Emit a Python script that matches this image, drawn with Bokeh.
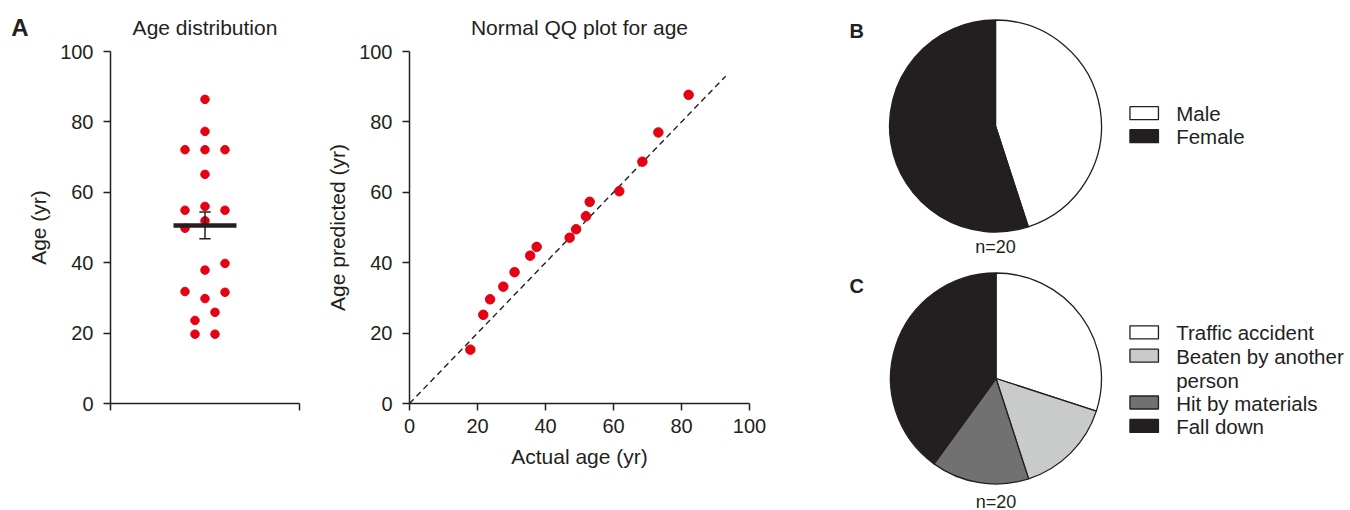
import numpy as np
from bokeh.plotting import figure
from bokeh.layouts import row
from bokeh.models import Range1d, FixedTicker
from bokeh.core.properties import value
from bokeh.embed import file_html
from bokeh.resources import INLINE

# ---------------- data ----------------
# Panel A (left): individual ages, with horizontal slot used by the dot plot
ages = [86.4, 77.3, 72.1, 72.1, 72.1, 65.1, 56.0, 54.9, 54.9, 51.9,
        49.8, 39.8, 37.9, 31.8, 31.6, 29.8, 25.9, 23.6, 19.7, 19.7]
age_slots = [0, 0, -2, 0, 2, 0, 0, -2, 2, 0,
             -2, 2, 0, -2, 2, 0, 1, -1, -1, 1]
age_mean = 50.6
age_sem = 3.8

# Panel A (right): normal QQ plot
qq_actual = [17.9, 21.7, 23.7, 27.6, 30.9, 35.5, 37.4, 47.1, 49.0, 51.9,
             53.0, 61.7, 68.5, 73.2, 82.1]
qq_predicted = [15.3, 25.2, 29.6, 33.2, 37.3, 42.0, 44.5, 47.1, 49.5, 53.2,
                57.3, 60.3, 68.7, 77.0, 87.7]
qq_line = [0, 93]

# Panel B: sex
sex_labels = ["Male", "Female"]
sex_counts = [9, 11]
# Panel C: cause of injury
cause_labels = ["Traffic accident", "Beaten by another\nperson", "Hit by materials", "Fall down"]
cause_counts = [6, 3, 3, 8]

# ---------------- style ----------------
INK = "#231f20"
RED = "#e60012"
FONT = "Liberation Sans"
sex_colors = ["#ffffff", INK]
cause_colors = ["#ffffff", "#c9caca", "#727171", INK]
H = 510
TOP, BOTTOM = 51, 107


def style_axis(ax, label_standoff):
    ax.axis_line_color = INK
    ax.axis_line_width = 1.5
    ax.major_tick_line_color = INK
    ax.major_tick_line_width = 1.5
    ax.major_tick_out = 7
    ax.major_tick_in = 0
    ax.minor_tick_line_color = None
    ax.major_label_text_font = FONT
    ax.major_label_text_font_size = "20px"
    ax.major_label_text_color = INK
    ax.axis_label_text_font = FONT
    ax.axis_label_text_font_size = "21px"
    ax.axis_label_text_font_style = "normal"
    ax.axis_label_text_color = INK
    ax.axis_label_standoff = label_standoff


def style_title(p):
    p.title.text_font = FONT
    p.title.text_font_size = "21px"
    p.title.text_font_style = "normal"
    p.title.text_color = INK
    p.title.align = "center"
    p.title.standoff = 25


def clean(p):
    p.outline_line_color = None
    p.background_fill_color = "white"
    p.border_fill_color = "white"


def unclip(r):
    r.level = "overlay"
    return r


# ---------------- figure 1: age distribution ----------------
f1 = figure(width=308, height=H, x_range=Range1d(0, 1), y_range=Range1d(0, 100),
            output_backend="svg", toolbar_location=None, title="Age distribution",
            min_border_left=110, min_border_right=9, min_border_top=TOP, min_border_bottom=BOTTOM)
clean(f1)
f1.grid.visible = False
style_title(f1)
style_axis(f1.xaxis[0], 5)
style_axis(f1.yaxis[0], 7)
f1.xaxis.ticker = FixedTicker(ticks=[0, 1])
f1.xaxis.major_label_overrides = {0: "", 1: ""}
f1.yaxis.ticker = FixedTicker(ticks=[0, 20, 40, 60, 80, 100])
f1.yaxis.major_label_standoff = 10
f1.yaxis.axis_label = "Age (yr)"

slot_w = 0.0529
xs = [0.5 + s * slot_w for s in age_slots]
f1.scatter(xs, ages, size=8.5, fill_color=RED, line_color=RED)
f1.segment(x0=[0.5 - 0.1667], y0=[age_mean], x1=[0.5 + 0.1667], y1=[age_mean],
           line_color=INK, line_width=4.5)
f1.segment(x0=[0.5, 0.47, 0.47], y0=[age_mean - age_sem, age_mean + age_sem, age_mean - age_sem],
           x1=[0.5, 0.53, 0.53], y1=[age_mean + age_sem, age_mean + age_sem, age_mean - age_sem],
           line_color=INK, line_width=1.5)
unclip(f1.text(x=[-0.479], y=[106.8], text=["A"], text_align="center", text_baseline="middle",
               text_font=value(FONT), text_font_size="24px", text_font_style="bold",
               text_color=INK))

# ---------------- figure 2: QQ plot ----------------
f2 = figure(width=522, height=H, x_range=Range1d(0, 100), y_range=Range1d(0, 100),
            output_backend="svg", toolbar_location=None, title="Normal QQ plot for age",
            min_border_left=101, min_border_right=81, min_border_top=TOP, min_border_bottom=BOTTOM)
clean(f2)
f2.grid.visible = False
style_title(f2)
style_axis(f2.xaxis[0], 9)
style_axis(f2.yaxis[0], 7)
f2.xaxis.ticker = FixedTicker(ticks=[0, 20, 40, 60, 80, 100])
f2.yaxis.ticker = FixedTicker(ticks=[0, 20, 40, 60, 80, 100])
f2.xaxis.major_label_standoff = 8
f2.yaxis.major_label_standoff = 10
f2.xaxis.axis_label = "Actual age (yr)"
f2.yaxis.axis_label = "Age predicted (yr)"
f2.line(qq_line, qq_line, line_color=INK, line_width=1.4, line_dash="6 4")
f2.scatter(qq_actual, qq_predicted, size=9.5, fill_color=RED, line_color=RED)

# ---------------- figure 3: pies (1 data unit = 1 px) ----------------
f3 = figure(width=520, height=H, x_range=Range1d(0, 520), y_range=Range1d(BOTTOM, H - TOP),
            output_backend="svg", toolbar_location=None, x_axis_type=None, y_axis_type=None,
            min_border_left=0, min_border_right=0, min_border_top=TOP, min_border_bottom=BOTTOM)
clean(f3)


def pie(p, cx, cy, r, counts, colors):
    cum = np.cumsum([0] + list(counts)) / float(sum(counts))
    start = np.pi / 2 - 2 * np.pi * cum[:-1]
    end = np.pi / 2 - 2 * np.pi * cum[1:]
    unclip(p.wedge(x=cx, y=cy, radius=r, start_angle=start, end_angle=end, direction="clock",
                   fill_color=colors, line_color=INK, line_width=1.3))


def legend(p, x, y0, step, rows, labels, colors):
    ys = [y0 - k * step for k in rows]
    unclip(p.rect(x=x, y=ys, width=28.5, height=13, fill_color=colors, line_color=INK, line_width=1.3))
    unclip(p.text(x=x + 32, y=[yy + 11 for yy in ys], text=labels, text_baseline="top",
                  text_font=value(FONT), text_font_size="20.5px", text_color=INK,
                  text_line_height=1.07))


pie(f3, 165, 384.5, 106, sex_counts, sex_colors)
pie(f3, 165.5, 132, 105.5, cause_counts, cause_colors)
legend(f3, 313.7, 397.3, 23, [0, 1], sex_labels, sex_colors)
legend(f3, 313.7, 178.2, 23.4, [0, 1, 3, 4], cause_labels, cause_colors)
unclip(f3.text(x=[165, 165.5], y=[264, 9],
               text=["n=%d" % sum(sex_counts), "n=%d" % sum(cause_counts)],
               text_align="center", text_baseline="middle",
               text_font=value(FONT), text_font_size="18px", text_color=INK))
unclip(f3.text(x=[19, 19], y=[480, 224.5], text=["B", "C"], text_baseline="middle",
               text_font=value(FONT), text_font_size="20px", text_font_style="bold",
               text_color=INK))

layout = row(f1, f2, f3, spacing=0)
open("out.html", "w").write(file_html(layout, INLINE))
